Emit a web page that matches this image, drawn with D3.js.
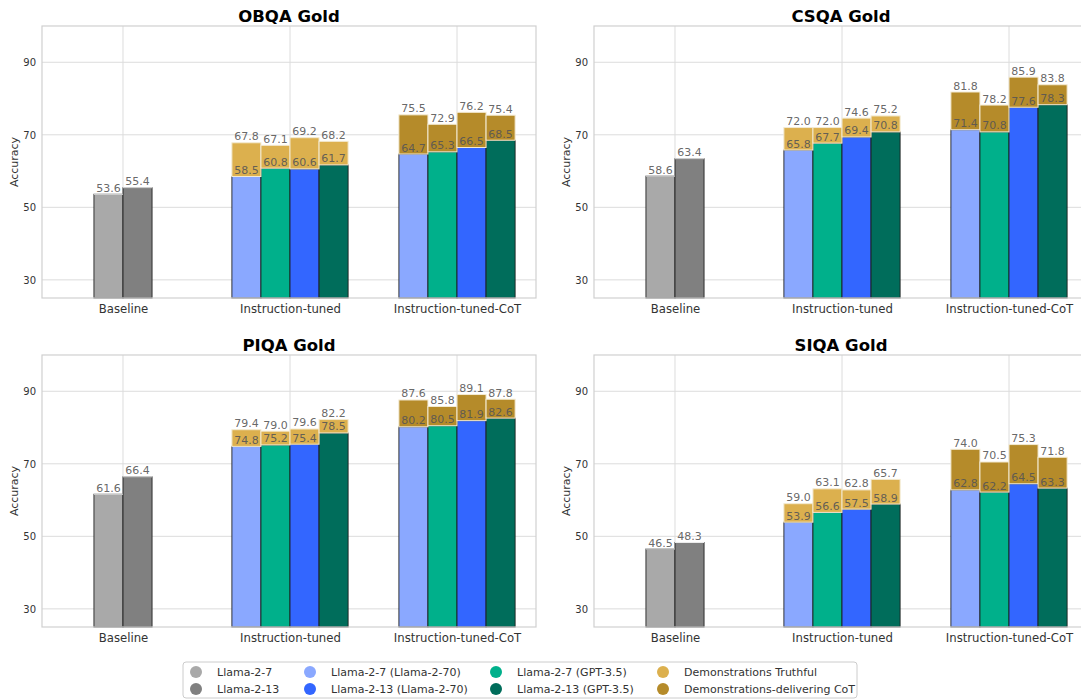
<!DOCTYPE html>
<html>
<head>
<meta charset="utf-8">
<script src="https://cdn.jsdelivr.net/npm/d3@7"></script>
<style>
  body { margin: 0; background: #fff; }
  svg { font-family: "DejaVu Sans", sans-serif; }
</style>
</head>
<body>
<svg id="chart" width="1081" height="700"></svg>
<script>
// categories and series
const categories = ["Baseline", "Instruction-tuned", "Instruction-tuned-CoT"];
const datasets = ["OBQA Gold", "CSQA Gold", "PIQA Gold", "SIQA Gold"];
const yTicks = [30, 50, 70, 90];

const baselineNames = ["Llama-2-7", "Llama-2-13"];
const tunedNames = ["Llama-2-7 (Llama-2-70)", "Llama-2-7 (GPT-3.5)", "Llama-2-13 (Llama-2-70)", "Llama-2-13 (GPT-3.5)"];

// per dataset: baseline, instruction-tuned (base / with demos), CoT (base / with demos)
const baselineVals = [[53.6, 55.4], [58.6, 63.4], [61.6, 66.4], [46.5, 48.3]];
const tunedVals = [[58.5, 60.8, 60.6, 61.7], [65.8, 67.7, 69.4, 70.8], [74.8, 75.2, 75.4, 78.5], [53.9, 56.6, 57.5, 58.9]];
const tunedDemoVals = [[67.8, 67.1, 69.2, 68.2], [72.0, 72.0, 74.6, 75.2], [79.4, 79.0, 79.6, 82.2], [59.0, 63.1, 62.8, 65.7]];
const cotVals = [[64.7, 65.3, 66.5, 68.5], [71.4, 70.8, 77.6, 78.3], [80.2, 80.5, 81.9, 82.6], [62.8, 62.2, 64.5, 63.3]];
const cotDemoVals = [[75.5, 72.9, 76.2, 75.4], [81.8, 78.2, 85.9, 83.8], [87.6, 85.8, 89.1, 87.8], [74.0, 70.5, 75.3, 71.8]];

const baselineColors = ["#a9a9a9", "#808080"];
const tunedColors = ["#8aa8ff", "#00b08b", "#3366ff", "#006d5b"];
const demoColors = { truthful: "#dcb04e", cot: "#b58b2a" };

const svg = d3.select("#chart");
const panelW = 494, panelH = 272;
const origins = [[42, 26], [594, 26], [42, 355], [594, 355]];
const barW = 0.174;

function drawPanel(i) {
    const [ox, oy] = origins[i];
    const g = svg.append("g").attr("transform", "translate(" + ox + "," + oy + ")");

    const x = d3.scaleLinear().domain([-0.485, 2.473]).range([0, panelW]);
    const y = d3.scaleLinear().domain([25, 100]).range([panelH, 0]);

    // grid
    g.selectAll(".hgrid").data(yTicks).enter().append("line")
        .attr("x1", 0).attr("x2", panelW)
        .attr("y1", d => y(d)).attr("y2", d => y(d))
        .attr("stroke", "#dcdcdc").attr("stroke-width", 1);
    g.selectAll(".vgrid").data(categories).enter().append("line")
        .attr("x1", (d, k) => x(k)).attr("x2", (d, k) => x(k))
        .attr("y1", 0).attr("y2", panelH)
        .attr("stroke", "#dcdcdc").attr("stroke-width", 1);

    // y axis
    const yAxis = g.append("g").call(d3.axisLeft(y).tickValues(yTicks).tickSize(0).tickPadding(6));
    yAxis.select(".domain").remove();
    yAxis.selectAll("text").attr("font-size", 10).attr("fill", "#333").attr("font-family", "DejaVu Sans");
    g.append("text")
        .attr("transform", "translate(-24," + (panelH / 2) + ") rotate(-90)")
        .attr("text-anchor", "middle").attr("font-size", 11).attr("fill", "#333")
        .text("Accuracy");

    // x axis
    const xAxis = g.append("g").attr("transform", "translate(0," + panelH + ")")
        .call(d3.axisBottom(x).tickValues([0, 1, 2]).tickFormat(k => categories[k]).tickSize(0).tickPadding(7));
    xAxis.select(".domain").remove();
    xAxis.selectAll("text").attr("font-size", 11.7).attr("fill", "#333").attr("font-family", "DejaVu Sans");

    // bars
    const bars = [];
    baselineVals[i].forEach((v, j) => bars.push({ cat: 0, off: (j - 0.5) * barW, base: v, color: baselineColors[j] }));
    tunedVals[i].forEach((v, j) => bars.push({ cat: 1, off: (j - 1.5) * barW, base: v, demo: tunedDemoVals[i][j], dcolor: demoColors.truthful, color: tunedColors[j] }));
    cotVals[i].forEach((v, j) => bars.push({ cat: 2, off: (j - 1.5) * barW, base: v, demo: cotDemoVals[i][j], dcolor: demoColors.cot, color: tunedColors[j] }));

    const bw = x(barW) - x(0);
    g.selectAll(".base").data(bars).enter().append("rect")
        .attr("x", d => x(d.cat + d.off - barW / 2))
        .attr("y", d => y(d.base))
        .attr("width", bw)
        .attr("height", d => y(25) - y(d.base))
        .attr("fill", d => d.color)
        .attr("stroke", "#1a1a1a").attr("stroke-width", 1).attr("stroke-opacity", 0.85);

    const stacked = bars.filter(d => d.demo !== undefined);
    g.selectAll(".demo").data(stacked).enter().append("rect")
        .attr("x", d => x(d.cat + d.off - barW / 2))
        .attr("y", d => y(d.demo))
        .attr("width", bw)
        .attr("height", d => y(d.base) - y(d.demo))
        .attr("fill", d => d.dcolor)
        .attr("stroke", "#f3ead2").attr("stroke-width", 1);

    // light top edge on baseline bars
    g.selectAll(".btop").data(bars.filter(d => d.demo === undefined)).enter().append("line")
        .attr("x1", d => x(d.cat + d.off - barW / 2)).attr("x2", d => x(d.cat + d.off + barW / 2))
        .attr("y1", d => y(d.base)).attr("y2", d => y(d.base))
        .attr("stroke", "#eeeeee").attr("stroke-width", 1);

    // value labels
    g.selectAll(".lbase").data(bars).enter().append("text")
        .attr("x", d => x(d.cat + d.off))
        .attr("y", d => y(d.base) - 2.5)
        .attr("text-anchor", "middle").attr("font-size", 11).attr("fill", "#555")
        .attr("fill-opacity", 0.9)
        .text(d => d.base.toFixed(1));
    g.selectAll(".ldemo").data(stacked).enter().append("text")
        .attr("x", d => x(d.cat + d.off))
        .attr("y", d => y(d.demo) - 2.5)
        .attr("text-anchor", "middle").attr("font-size", 11).attr("fill", "#555")
        .attr("fill-opacity", 0.9)
        .text(d => d.demo.toFixed(1));

    // frame
    g.append("rect").attr("x", 0).attr("y", 0).attr("width", panelW).attr("height", panelH)
        .attr("fill", "none").attr("stroke", "#d0d0d0").attr("stroke-width", 1.2);

    // title
    g.append("text").attr("x", panelW / 2).attr("y", -4)
        .attr("text-anchor", "middle").attr("font-size", 16.5).attr("font-weight", "bold").attr("fill", "#000")
        .text(datasets[i]);
}

datasets.forEach((d, i) => drawPanel(i));

// legend
const legendNames = [baselineNames[0], baselineNames[1], tunedNames[0], tunedNames[2], tunedNames[1], tunedNames[3], "Demonstrations Truthful", "Demonstrations-delivering CoT"];
const legendColors = [baselineColors[0], baselineColors[1], tunedColors[0], tunedColors[2], tunedColors[1], tunedColors[3], demoColors.truthful, demoColors.cot];
const colX = [196, 310, 496, 663];
const lg = svg.append("g");
lg.append("rect").attr("x", 183).attr("y", 662).attr("width", 674).attr("height", 36)
    .attr("rx", 3).attr("fill", "#fff").attr("stroke", "#cccccc").attr("stroke-width", 1);
lg.selectAll(".item").data(legendNames).enter().append("g")
    .attr("transform", (d, k) => "translate(" + colX[Math.floor(k / 2)] + "," + (672 + (k % 2) * 17) + ")")
    .each(function (d, k) {
        const it = d3.select(this);
        it.append("circle").attr("r", 6).attr("fill", legendColors[k]);
        it.append("text").attr("x", 21).attr("y", 4).attr("font-size", 11).attr("fill", "#333").text(d);
    });
</script>
</body>
</html>
